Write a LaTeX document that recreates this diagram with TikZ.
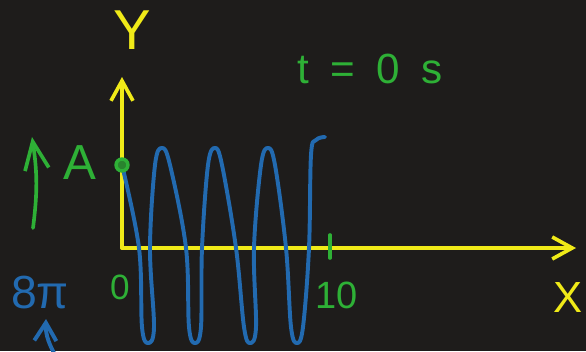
\documentclass[tikz,border=0pt]{standalone}
\usepackage{fontspec}
\setmainfont{Liberation Sans}
\usetikzlibrary{arrows.meta, positioning}

\definecolor{board}{RGB}{30,28,27}
\definecolor{chalkyellow}{RGB}{240,234,24}
\definecolor{chalkgreen}{RGB}{46,176,54}
\definecolor{chalkblue}{RGB}{34,106,176}

\begin{document}
\begin{tikzpicture}[x=0.025cm, y=0.025cm,
  axisline/.style={chalkyellow, line width=2.6pt, line cap=round,
    -{Straight Barb[length=5mm, width=5.5mm]}},
  greenline/.style={chalkgreen, line width=2.6pt, line cap=round},
  blueline/.style={chalkblue, line width=2.8pt, line cap=round, line join=round},
  greentext/.style={text=chalkgreen, inner sep=0pt},
  yellowtext/.style={text=chalkyellow, inner sep=0pt},
  bluetext/.style={text=chalkblue, inner sep=0pt}
]
  %% board
  \useasboundingbox (0,0) rectangle (586,351);
  \fill[board] (0,0) rectangle (586,351);

  %% axes
  \coordinate (O) at (122,103);
  \coordinate (ytip) at (122,274);
  \coordinate (xtip) at (576,103);
  \draw[axisline] (O) -- (ytip);
  \draw[axisline] (O) -- (xtip);
  \node[yellowtext, font=\fontsize{40}{44}\selectfont] (ylabel) at (132,321) {Y};
  \node[yellowtext, font=\fontsize{31}{34}\selectfont] (xlabel) at (568,53) {X};

  %% time label
  \node[greentext, font=\fontsize{30}{33}\selectfont\addfontfeature{LetterSpace=50}] (time) at (370,282) {t=0s};

  %% wave
  \draw[blueline] plot[smooth, tension=0.6] coordinates {
    (122,186) (139,103) (142,24) (148,8) (154,24) (150,103)
    (155,186) (162,203) (170,186)
    (186,103) (189,24) (195,8) (201,24) (202,103)
    (208,186) (215,203) (222,186)
    (236,103) (244,24) (250,8) (256,24) (254,103)
    (261,186) (268,203) (275,186)
    (286,103) (291,24) (297,8) (303,24) (309,103) (311,196) (316,211) (325,214)};

  %% amplitude
  \node[draw=chalkgreen, fill=chalkgreen!70!board, line width=2.4pt, circle, minimum size=12*0.025cm, inner sep=0pt] (start) at (122,186) {};
  \node[greentext, font=\fontsize{35}{38}\selectfont] (amp) at (80,188) {A};
  \coordinate (abot) at (33,123);
  \coordinate (atop) at (32,214);
  \draw[greenline, -{Straight Barb[length=7mm, width=6mm]}] (abot) to[bend right=8] (atop);

  %% x marks
  \coordinate (tickbot) at (330,93);
  \coordinate (ticktop) at (330,116);
  \draw[greenline] (tickbot) -- (ticktop);
  \node[greentext, font=\fontsize{25}{28}\selectfont] (zero) at (120,64) {0};
  \node[greentext, font=\fontsize{27}{30}\selectfont] (ten) at (337,56) {10};

  %% wave number
  \node[bluetext, font=\fontsize{33}{36}\selectfont] (kval) at (40,58) {8π};
  \coordinate (kbot) at (54,-2);
  \coordinate (ktop) at (46,32);
  \draw[blueline, -{Straight Barb[length=4.5mm, width=5.5mm]}] (kbot) to[bend left=15] (ktop);
\end{tikzpicture}
\end{document}
